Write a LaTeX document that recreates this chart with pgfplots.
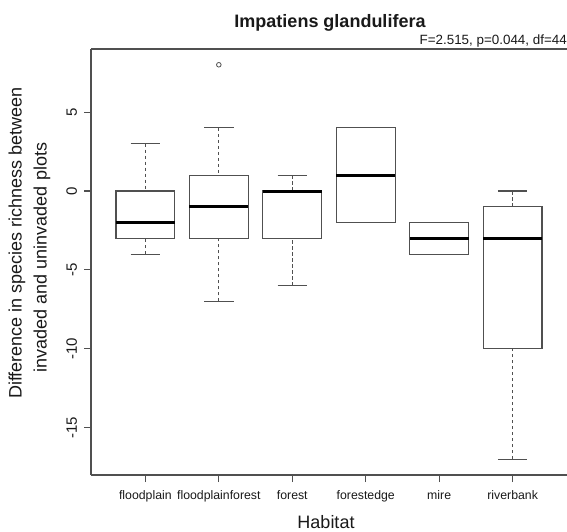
\documentclass[border=0pt]{standalone}
\usepackage{fontspec}
\setmainfont{Liberation Sans}
\usepackage{pgfplots}
\pgfplotsset{compat=1.18}
\usepgfplotslibrary{statistics}
\definecolor{frame}{RGB}{80,80,80}
\definecolor{ink}{RGB}{25,25,25}
\newcommand{\px}[1]{\fontsize{#1}{#1}\selectfont}

\pgfplotsset{
  rbox/.style={draw=frame, line width=1.2pt, mark=o, mark size=2.3pt,
    mark options={solid, draw=frame, line width=0.8pt, fill=none}},
}

\begin{document}
\begin{tikzpicture}
\path[use as bounding box] (0pt,0pt) rectangle (567pt,531pt);
\begin{axis}[
    at={(91pt,56pt)}, anchor=south west,
    scale only axis, width=476pt, height=426pt,
    xmin=0.26, xmax=6.74, ymin=-18, ymax=9,
    axis x line=box, axis y line=left,
    axis line style={-, frame, line width=1.2pt},
    xtick={1,2,3,4,5,6},
    xticklabels={floodplain, floodplainforest, forest, forestedge, mire, riverbank},
    ytick={-15,-10,-5,0,5},
    tick align=outside, xtick pos=bottom, ytick pos=left,
    major tick length=7pt,
    tick style={frame, line width=1.2pt},
    ticklabel style={text=ink},
    typeset ticklabels with strut,
    xticklabel style={font=\px{12.3}, yshift=-5.4pt},
    yticklabel style={font=\px{15}, rotate=90, anchor=south, inner sep=2.5pt},
    /pgf/number format/assume math mode=true,
    boxplot/draw direction=y,
    boxplot/box extend=0.8,
    boxplot/every box/.style={draw=frame, line width=1.2pt},
    boxplot/every median/.style={draw=black, line width=3pt},
    boxplot/draw/lower whisker/.code={
      \draw[frame, line width=1.2pt, dash pattern=on 3.5pt off 2.5pt]
        (boxplot box cs:\pgfplotsboxplotvalue{lower whisker},0.5) --
        (boxplot box cs:\pgfplotsboxplotvalue{lower quartile},0.5);
      \draw[frame, line width=1.2pt]
        (boxplot box cs:\pgfplotsboxplotvalue{lower whisker},0.25) --
        (boxplot box cs:\pgfplotsboxplotvalue{lower whisker},0.75);
    },
    boxplot/draw/upper whisker/.code={
      \draw[frame, line width=1.2pt, dash pattern=on 3.5pt off 2.5pt]
        (boxplot box cs:\pgfplotsboxplotvalue{upper whisker},0.5) --
        (boxplot box cs:\pgfplotsboxplotvalue{upper quartile},0.5);
      \draw[frame, line width=1.2pt]
        (boxplot box cs:\pgfplotsboxplotvalue{upper whisker},0.25) --
        (boxplot box cs:\pgfplotsboxplotvalue{upper whisker},0.75);
    },
  ]
  % floodplain
  \addplot[rbox, boxplot prepared={draw position=1,
    lower whisker=-4, lower quartile=-3, median=-2,
    upper quartile=0, upper whisker=3}] coordinates {};
  % floodplainforest (one outlier at 8)
  \addplot[rbox, boxplot prepared={draw position=2,
    lower whisker=-7, lower quartile=-3, median=-1,
    upper quartile=1, upper whisker=4}] coordinates {(0,8)};
  % forest
  \addplot[rbox, boxplot prepared={draw position=3,
    lower whisker=-6, lower quartile=-3, median=0,
    upper quartile=0, upper whisker=1}] coordinates {};
  % forestedge
  \addplot[rbox, boxplot prepared={draw position=4,
    lower whisker=-2, lower quartile=-2, median=1,
    upper quartile=4, upper whisker=4}] coordinates {};
  % mire
  \addplot[rbox, boxplot prepared={draw position=5,
    lower whisker=-4, lower quartile=-4, median=-3,
    upper quartile=-2, upper whisker=-2}] coordinates {};
  % riverbank
  \addplot[rbox, boxplot prepared={draw position=6,
    lower whisker=-17, lower quartile=-10, median=-3,
    upper quartile=-1, upper whisker=0}] coordinates {};
\end{axis}

\node[anchor=base, font=\bfseries\px{18}, text=ink] at (330pt,503pt) {Impatiens glandulifera};
\node[anchor=base east, inner sep=0pt, font=\px{13.4}, text=ink] at (567pt,486pt) {F=2.515, p=0.044, df=44};
\node[rotate=90, font=\px{18}, text=ink] at (17pt,288pt) {Difference in species richness between};
\node[rotate=90, font=\px{18}, text=ink] at (42pt,273.5pt) {invaded and uninvaded plots};
\node[font=\px{18}, text=ink] at (326pt,9pt) {Habitat};
\end{tikzpicture}
\end{document}
